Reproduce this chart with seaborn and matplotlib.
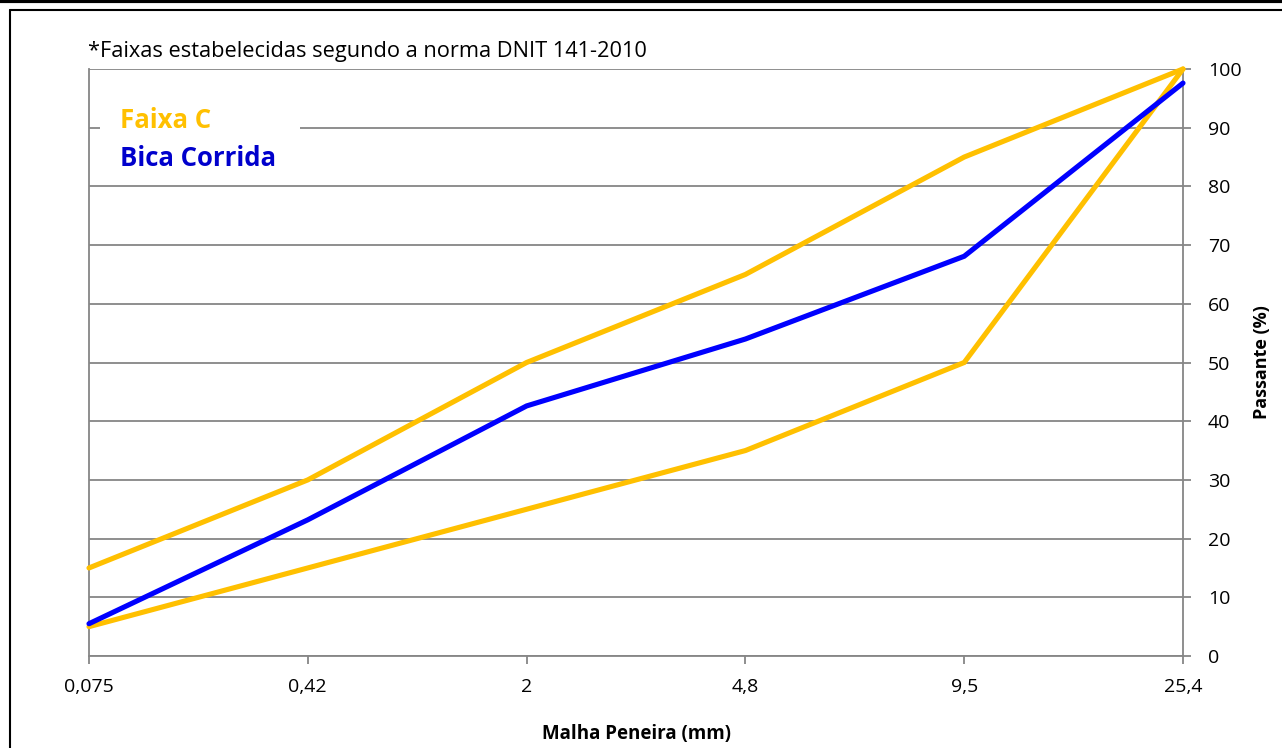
import matplotlib
matplotlib.use("Agg")
import matplotlib.pyplot as plt
import seaborn as sns
import pandas as pd
from matplotlib.lines import Line2D
from matplotlib.patches import Rectangle

peneiras = ["0,075", "0,42", "2", "4,8", "9,5", "25,4"]
faixa_sup = [15, 30, 50, 65, 85, 100]
faixa_inf = [5, 15, 25, 35, 50, 100]
bica_corrida = [5.5, 23.2, 42.6, 54, 68.1, 97.6]
y_ticks = [0, 10, 20, 30, 40, 50, 60, 70, 80, 90, 100]

sns.set_theme(style="white")
plt.rcParams['font.family'] = ['Open Sans', 'DejaVu Sans']
plt.rcParams['text.color'] = 'black'
plt.rcParams['axes.labelcolor'] = 'black'
plt.rcParams['xtick.color'] = 'black'
plt.rcParams['ytick.color'] = 'black'

GOLD = "#FFC000"
BLUE = "#0000FF"
GRID = "#868686"

pos = list(range(len(peneiras)))
df = pd.DataFrame({
    "pos": pos * 3,
    "valor": faixa_sup + faixa_inf + bica_corrida,
    "serie": ["sup"] * 6 + ["inf"] * 6 + ["bica"] * 6,
})

fig = plt.figure(figsize=(12.82, 7.48), dpi=100)
ax = fig.add_axes([89/1282, 1-656/748, (1183-89)/1282, (656-69)/748])

for s, c, z in [("sup", GOLD, 3), ("inf", GOLD, 3), ("bica", BLUE, 4)]:
    sns.lineplot(data=df[df.serie == s], x="pos", y="valor", color=c, lw=3.7,
                 ax=ax, zorder=z, clip_on=False, legend=False, solid_joinstyle="miter")

ax.set_xlim(0, 5)
ax.set_ylim(0, 100)
ax.set_xticks(pos)
ax.set_xticklabels(peneiras, fontsize=14)
ax.set_yticks(y_ticks)
ax.set_yticklabels([str(v) for v in y_ticks], fontsize=14)
ax.yaxis.tick_right()
ax.yaxis.set_label_position("right")
ax.grid(axis="y", color=GRID, lw=1.3)
ax.grid(axis="x", visible=False)
ax.spines["top"].set_visible(False)
for side in ["left", "right", "bottom"]:
    ax.spines[side].set_color(GRID)
    ax.spines[side].set_linewidth(1.3)
ax.tick_params(axis="x", direction="out", length=6, width=1.3, color=GRID, pad=10, bottom=True,
               labelcolor="black")
ax.tick_params(axis="y", direction="out", length=6, width=1.3, color=GRID, pad=12, right=True, left=False,
               labelcolor="black")
ax.set_xlabel("Malha Peneira (mm)", fontsize=13.5, fontweight="bold", labelpad=20, color="black")
ax.set_ylabel("Passante (%)", fontsize=13, fontweight="bold", labelpad=8, color="black")
ax.set_facecolor("white")

# note
fig.text(88/1282, 1-52/748, "*Faixas estabelecidas segundo a norma DNIT 141-2010",
         fontsize=15.7, va="center", ha="left", color="black")

# legend (text only)
ax.add_patch(Rectangle((100/1282, 1-182/748), 200/1282, 80/748, transform=fig.transFigure,
                       facecolor="white", edgecolor="none", zorder=5))
fig.text(120/1282, 1-121/748, "Faixa C", fontsize=18.5, fontweight="bold", color=GOLD,
         va="center", ha="left", zorder=6)
fig.text(120/1282, 1-158/748, "Bica Corrida", fontsize=18.5, fontweight="bold", color="#0000CC",
         va="center", ha="left", zorder=6)

# frame
fig.add_artist(Line2D([0, 1], [1-1/748, 1-1/748], transform=fig.transFigure, color="black", lw=3))
fig.add_artist(Line2D([10/1282, 1], [1-10/748, 1-10/748], transform=fig.transFigure, color="black", lw=1.5))
fig.add_artist(Line2D([10/1282, 10/1282], [0, 1-10/748], transform=fig.transFigure, color="black", lw=1.5))

fig.savefig("out.png", dpi=100, facecolor="white")
